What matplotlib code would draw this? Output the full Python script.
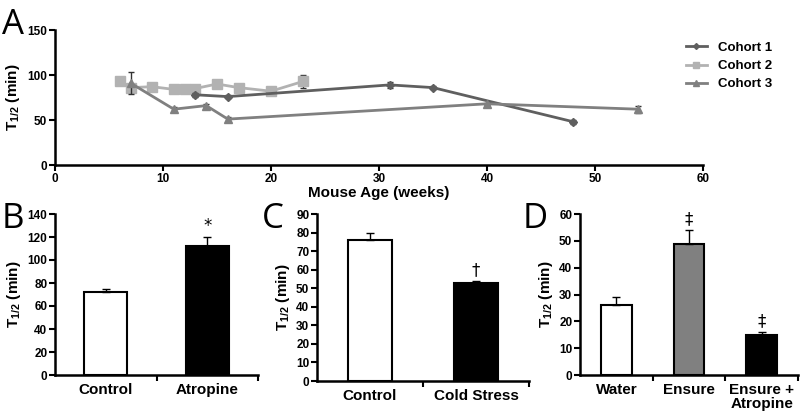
import matplotlib
matplotlib.use("Agg")
import matplotlib.pyplot as plt
from matplotlib.lines import Line2D

plt.rcParams['font.family'] = ['Liberation Sans', 'DejaVu Sans']
plt.rcParams['font.weight'] = 'bold'
plt.rcParams['axes.labelweight'] = 'bold'
plt.rcParams['mathtext.fontset'] = 'custom'
plt.rcParams['mathtext.rm'] = 'Liberation Sans:bold'
plt.rcParams['mathtext.it'] = 'Liberation Sans:bold'
plt.rcParams['mathtext.bf'] = 'Liberation Sans:bold'

# ---- Panel A data ----
c1_x = [13, 16, 31, 35, 48]
c1_y = [78, 76, 89, 86, 48]
c1_e = [2, 2, 3, 2, 2]
c2_x = [6, 7, 9, 11, 12, 13, 15, 17, 20, 23]
c2_y = [93, 86, 87, 84, 84, 85, 90, 86, 82, 93]
c2_e = [1, 2, 2, 1, 1, 2, 3, 2, 1, 7]
c3_x = [7, 11, 14, 16, 40, 54]
c3_y = [91, 62, 66, 51, 68, 62]
c3_e = [12.5, 2, 2, 2, 1, 4]
a_xticks = [0, 10, 20, 30, 40, 50, 60]
a_yticks = [0, 50, 100, 150]

# ---- Panel B data ----
b_cats = ['Control', 'Atropine']
b_vals = [72, 112]
b_errs = [3, 8]
b_colors = ['white', 'black']
b_marks = ['', '*']

# ---- Panel C data ----
c_cats = ['Control', 'Cold Stress']
c_vals = [76, 53]
c_errs = [4, 1]
c_colors = ['white', 'black']
c_marks = ['', '\u2020']

# ---- Panel D data ----
d_cats = ['Water', 'Ensure', 'Ensure +\nAtropine']
d_vals = [26, 49, 15]
d_errs = [3, 5, 1]
d_colors = ['white', '#808080', 'black']
d_marks = ['', '\u2021', '\u2021']

fig = plt.figure(figsize=(8, 4.11), dpi=100)

ylab = r'T$_{\mathrm{1/2}}$ (min)'

def style(ax):
    for s in ['top', 'right']:
        ax.spines[s].set_visible(False)
    for s in ['left', 'bottom']:
        ax.spines[s].set_linewidth(1.8)
    ax.tick_params(width=1.5, length=4, labelsize=8.5, pad=1.5)

def bold_ticks(ax):
    for lab in ax.get_xticklabels() + ax.get_yticklabels():
        lab.set_fontweight('bold')
        lab.set_family('Liberation Sans')

# Panel A
axA = fig.add_axes([55/800, 1-165/411, 648/800, 135/411])
style(axA)
colors_a = ['#5f5f5f', '#b2b2b2', '#808080']
axA.errorbar(c1_x, c1_y, yerr=c1_e, color=colors_a[0], marker='D', ms=4, lw=2,
             ecolor='#333333', elinewidth=1, capsize=2, zorder=3)
axA.errorbar(c2_x, c2_y, yerr=c2_e, color=colors_a[1], marker='s', ms=7, lw=2,
             ecolor='#333333', elinewidth=1, capsize=2, zorder=2)
axA.errorbar(c3_x, c3_y, yerr=c3_e, color=colors_a[2], marker='^', ms=6, lw=2,
             ecolor='#333333', elinewidth=1, capsize=2, zorder=4)
axA.set_xlim(0, 60)
axA.set_ylim(0, 150)
axA.set_xticks(a_xticks)
axA.set_yticks(a_yticks)
bold_ticks(axA)
axA.set_ylabel(ylab, fontsize=11, labelpad=4)
axA.set_xlabel('Mouse Age (weeks)', fontsize=11, labelpad=1)
handles = [Line2D([], [], color=colors_a[0], marker='D', ms=3, lw=2),
           Line2D([], [], color=colors_a[1], marker='s', ms=5, lw=2),
           Line2D([], [], color=colors_a[2], marker='^', ms=5, lw=2)]
fig.legend(handles, ['Cohort 1', 'Cohort 2', 'Cohort 3'], loc='upper left',
           bbox_to_anchor=(674/800, 1-30/411), frameon=False,
           fontsize=9.5, handlelength=1.6, labelspacing=0.45, handletextpad=0.8)
fig.text(2/800, 1-34/411, 'A', fontsize=25, fontweight='normal', family='Open Sans')

def bar_panel(rect, cats, vals, errs, colors, marks, yticks, ylim, letter, letter_pos):
    ax = fig.add_axes(rect)
    style(ax)
    x = list(range(len(cats)))
    ax.bar(x, vals, width=0.42, color=colors, edgecolor='black', linewidth=1.5, zorder=2)
    for xi, v, e, m in zip(x, vals, errs, marks):
        ax.errorbar([xi], [v], yerr=[[0], [e]], fmt='none', ecolor='black',
                    elinewidth=1, capsize=3, capthick=1, zorder=3)
        if m:
            ax.text(xi, v + e + ylim * 0.01, m, ha='center', va='bottom',
                    fontsize=12, fontweight='normal', family='DejaVu Sans')
    ax.set_xlim(-0.5, len(cats) - 0.5)
    ax.set_ylim(0, ylim)
    ax.set_yticks(yticks)
    ax.set_xticks(x)
    ax.set_xticklabels(cats, fontsize=11, linespacing=0.95)
    ax.tick_params(axis='x', length=0, pad=6)
    ax.set_xticks([i + 0.5 for i in range(len(cats))], minor=True)
    ax.tick_params(axis='x', which='minor', length=4, width=1.5)
    bold_ticks(ax)
    ax.set_ylabel(ylab, fontsize=11, labelpad=3)
    fig.text(letter_pos[0], letter_pos[1], letter, fontsize=25, fontweight='normal',
             family='Open Sans')
    return ax

bar_panel([55/800, 1-375/411, 203/800, 161/411], b_cats, b_vals, b_errs, b_colors,
          b_marks, list(range(0, 141, 20)), 140, 'B', (2/800, 1-228/411))
bar_panel([317/800, 1-381/411, 212/800, 167/411], c_cats, c_vals, c_errs, c_colors,
          c_marks, list(range(0, 91, 10)), 90, 'C', (262/800, 1-228/411))
bar_panel([580/800, 1-375/411, 218/800, 161/411], d_cats, d_vals, d_errs, d_colors,
          d_marks, list(range(0, 61, 10)), 60, 'D', (523/800, 1-228/411))

fig.savefig('out.png', dpi=100)
